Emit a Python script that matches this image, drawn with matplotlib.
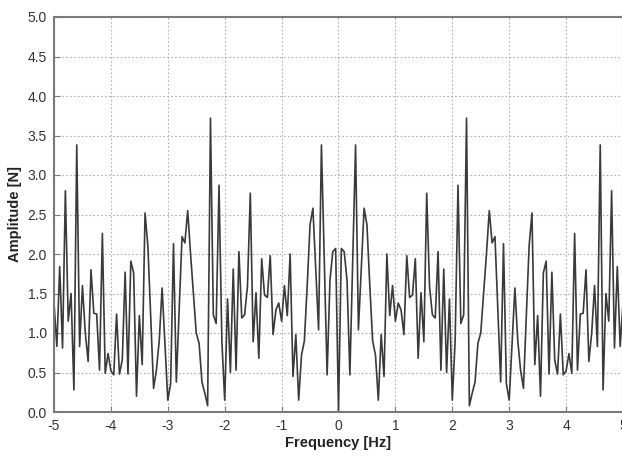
import numpy as np
import matplotlib
matplotlib.use("Agg")
import matplotlib.pyplot as plt

plt.rcParams['font.family'] = ['Liberation Sans', 'DejaVu Sans']

# Frequency axis (Hz), 0.05 Hz steps from -5 to 5
freq_step = 0.05
frequency = np.round(np.arange(-100, 101) * freq_step, 4)

# Amplitude [N], -5 Hz .. 0 Hz (exclusive)
amp_negative = [
    1.38, 0.83, 1.84, 0.81, 2.8, 1.15, 1.5, 0.28, 3.38, 0.83,
    1.6, 1.0, 0.64, 1.8, 1.25, 1.24, 0.53, 2.26, 0.49, 0.74,
    0.52, 0.47, 1.24, 0.48, 0.66, 1.77, 0.48, 1.91, 1.76, 0.2,
    1.22, 0.6, 2.52, 2.1, 1.2, 0.3, 0.53, 0.91, 1.57, 0.85,
    0.15, 0.36, 2.13, 0.38, 1.3, 2.22, 2.14, 2.55, 2.0, 1.5,
    1.0, 0.87, 0.38, 0.24, 0.08, 3.72, 1.23, 1.12, 2.87, 0.9,
    0.15, 1.43, 0.5, 1.81, 0.53, 2.03, 1.19, 1.23, 1.59, 2.77,
    0.89, 1.51, 0.68, 1.94, 1.48, 1.45, 1.98, 0.98, 1.29, 1.38,
    1.15, 1.6, 1.22, 2.0, 0.45, 0.98, 0.15, 0.72, 0.9, 1.6,
    2.37, 2.58, 1.8, 1.04, 3.38, 1.9, 0.47, 1.67, 2.03, 2.07,
]
# Amplitude [N], 0 Hz .. 5 Hz
amp_positive = [
    0.0,
    2.07, 2.03, 1.67, 0.47, 1.9, 3.38, 1.04, 1.8, 2.58, 2.37,
    1.6, 0.9, 0.72, 0.15, 0.98, 0.45, 2.0, 1.22, 1.6, 1.15,
    1.38, 1.29, 0.98, 1.98, 1.45, 1.48, 1.94, 0.68, 1.51, 0.89,
    2.77, 1.59, 1.23, 1.19, 2.03, 0.53, 1.81, 0.5, 1.43, 0.15,
    0.9, 2.87, 1.12, 1.23, 3.72, 0.08, 0.24, 0.38, 0.87, 1.0,
    1.5, 2.0, 2.55, 2.14, 2.22, 1.3, 0.38, 2.13, 0.36, 0.15,
    0.85, 1.57, 0.91, 0.53, 0.3, 1.2, 2.1, 2.52, 0.6, 1.22,
    0.2, 1.76, 1.91, 0.48, 1.77, 0.66, 0.48, 1.24, 0.47, 0.52,
    0.74, 0.49, 2.26, 0.53, 1.24, 1.25, 1.8, 0.64, 1.0, 1.6,
    0.83, 3.38, 0.28, 1.5, 1.15, 2.8, 0.81, 1.84, 0.83, 1.38,
]
amplitude = amp_negative + amp_positive

x_ticks = [-5, -4, -3, -2, -1, 0, 1, 2, 3, 4, 5]
y_ticks = [0.0, 0.5, 1.0, 1.5, 2.0, 2.5, 3.0, 3.5, 4.0, 4.5, 5.0]

fig = plt.figure(figsize=(6.22, 4.57), dpi=100)
ax = fig.add_axes([54/622, 1 - 412/457, (623 - 54)/622, (412 - 17)/457])

ax.plot(frequency, amplitude, color='#3a3a3a', linewidth=1.2)

ax.set_xlim(-5, 5)
ax.set_ylim(0, 5)
ax.set_xticks(x_ticks)
ax.set_xticklabels([str(t) for t in x_ticks])
ax.set_yticks(y_ticks)
ax.set_yticklabels([f"{t:.1f}" for t in y_ticks])

ax.grid(True, linestyle=(0, (1.5, 2)), color='#b0b0b0', linewidth=0.8)
for s in ax.spines.values():
    s.set_color('#7a7a7a')
    s.set_linewidth(1.5)
ax.tick_params(direction='in', length=4, color='#7a7a7a', labelsize=10,
               labelcolor='#333333', pad=5)

ax.set_xlabel('Frequency [Hz]', fontsize=10.5, fontweight='bold', color='#222222', labelpad=2)
ax.set_ylabel('Amplitude [N]', fontsize=10.5, fontweight='bold', color='#222222', labelpad=4)

fig.savefig('out.png', dpi=100)
